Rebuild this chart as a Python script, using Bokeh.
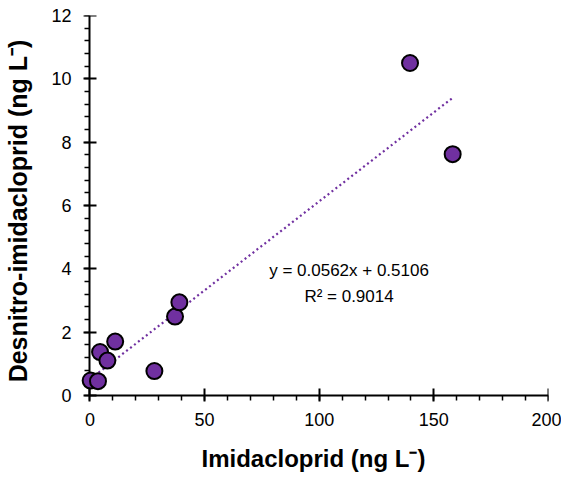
import numpy as np
from bokeh.plotting import figure
from bokeh.models import ColumnDataSource, FixedTicker, Label, LinearAxis
from bokeh.embed import file_html
from bokeh.resources import INLINE

imidacloprid = [0.3, 3.5, 4.4, 7.6, 11.0, 28.1, 37.1, 39.0, 139.6, 158.2]
desnitro = [0.47, 0.45, 1.37, 1.10, 1.70, 0.77, 2.49, 2.94, 10.5, 7.62]
slope = 0.0562
intercept = 0.5106
r2 = 0.9014
x_ticks = [0, 50, 100, 150, 200]
y_ticks = [0, 2, 4, 6, 8, 10, 12]
x_minor = [v for v in range(0, 201, 10)]
y_minor = [round(v * 0.4, 1) for v in range(0, 31)]

FONT = "Liberation Sans"
PURPLE = "#7030A0"

# ranges extended slightly so markers near the axes are not clipped
p = figure(width=561, height=474, x_range=(-5, 200), y_range=(-0.35, 12),
           output_backend="svg", toolbar_location=None,
           min_border_left=78, min_border_right=13, min_border_top=15, min_border_bottom=68)
p.outline_line_color = None
p.xgrid.visible = False
p.ygrid.visible = False

# trendline
xs = np.array([min(imidacloprid), max(imidacloprid)])
p.line(xs, slope * xs + intercept, line_color=PURPLE, line_width=2.2, line_dash="2 3")

src = ColumnDataSource(dict(x=imidacloprid, y=desnitro))
p.scatter("x", "y", source=src, size=16, fill_color=PURPLE, line_color="black", line_width=2,
          level="overlay")

p.add_layout(Label(x=113, y=3.94, text=f"y = {slope}x + {intercept}", text_align="center",
                   text_baseline="middle", text_font=FONT, text_font_size="17px", text_color="black"))
p.add_layout(Label(x=113, y=3.12, text=f"R\u00b2 = {r2}", text_align="center",
                   text_baseline="middle", text_font=FONT, text_font_size="17px", text_color="black"))

xt = FixedTicker(ticks=x_ticks, minor_ticks=x_minor)
yt = FixedTicker(ticks=y_ticks, minor_ticks=y_minor)

# label-only axes at the panel edges
p.xaxis.ticker = xt
p.yaxis.ticker = yt
for ax in (p.xaxis, p.yaxis):
    ax.axis_line_color = None
    ax.major_tick_line_color = None
    ax.minor_tick_line_color = None
    ax.major_tick_in = 0
    ax.major_tick_out = 0
    ax.minor_tick_in = 0
    ax.minor_tick_out = 0
    ax.major_label_text_font = FONT
    ax.major_label_text_font_size = "18px"
    ax.major_label_text_color = "black"
    ax.axis_label_text_font = FONT
    ax.axis_label_text_font_style = "bold"
    ax.axis_label_text_color = "black"
p.xaxis.axis_label_text_font_size = "24px"
p.yaxis.axis_label_text_font_size = "25px"
p.xaxis.axis_label = "Imidacloprid (ng L\u207b)"
p.yaxis.axis_label = "Desnitro-imidacloprid (ng L\u207b)"
p.xaxis.major_label_standoff = 6
p.yaxis.major_label_standoff = 7
p.xaxis.axis_label_standoff = 16
p.yaxis.axis_label_standoff = 16

# line + tick axes drawn at data zero
def line_axis(ticker, bounds):
    return LinearAxis(ticker=ticker, fixed_location=0, bounds=bounds,
                      axis_line_color="black", axis_line_width=2,
                      major_tick_line_color="black", major_tick_line_width=2,
                      minor_tick_line_color="black", minor_tick_line_width=1.5,
                      major_tick_in=6, major_tick_out=7, minor_tick_in=5, minor_tick_out=0,
                      major_label_text_font_size="0px", major_label_text_alpha=0,
                      major_label_standoff=0, axis_label=None)

p.add_layout(line_axis(xt, (0, 200)), "above")
p.add_layout(line_axis(yt, (0, 12)), "right")

open("out.html", "w").write(file_html(p, INLINE))
